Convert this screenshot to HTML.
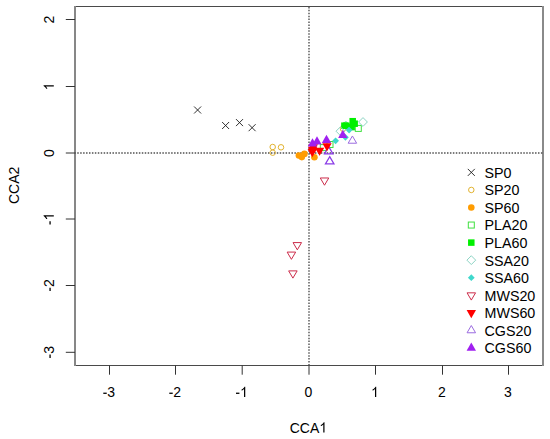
<!DOCTYPE html>
<html><head><meta charset="utf-8"><style>
html,body{margin:0;padding:0;background:#fff;width:550px;height:439px;overflow:hidden;position:relative;font-family:"Liberation Sans", sans-serif;}
</style></head><body>
<svg width="550" height="439" viewBox="0 0 550 439" style="position:absolute;left:0;top:0">
<rect x="74" y="6" width="470" height="1" fill="#4a4a4a"/>
<rect x="74" y="365" width="470" height="1" fill="#4a4a4a"/>
<rect x="74" y="6" width="2" height="360" fill="#878787"/>
<rect x="542" y="6" width="2" height="360" fill="#8a8a8a"/>
<line x1="109.50" y1="365.5" x2="109.50" y2="374.7" stroke="#333" stroke-width="1"/>
<g transform="translate(108.90,397.00) scale(1,1.06)"><path transform="translate(-6.22,0) scale(0.006836,-0.006836)" d="M91 425H591V605H91Z" fill="#000"/><text x="-1.56" y="0" font-family='"Liberation Sans", sans-serif' font-size="14" fill="#000">3</text></g>
<line x1="175.50" y1="365.5" x2="175.50" y2="374.7" stroke="#333" stroke-width="1"/>
<g transform="translate(174.90,397.00) scale(1,1.06)"><path transform="translate(-6.22,0) scale(0.006836,-0.006836)" d="M91 425H591V605H91Z" fill="#000"/><text x="-1.56" y="0" font-family='"Liberation Sans", sans-serif' font-size="14" fill="#000">2</text></g>
<line x1="242.20" y1="365.5" x2="242.20" y2="374.7" stroke="#333" stroke-width="1"/>
<g transform="translate(241.60,397.00) scale(1,1.06)"><path transform="translate(-6.22,0) scale(0.006836,-0.006836)" d="M91 425H591V605H91Z" fill="#000"/><path transform="translate(-1.56,0) scale(0.006836,-0.006836)" d="M763 0H583V1090Q518 1030 412 970T223 880V1050Q375 1120 489 1220T650 1409H763Z" fill="#000"/></g>
<line x1="309.00" y1="365.5" x2="309.00" y2="374.7" stroke="#333" stroke-width="1"/>
<g transform="translate(308.40,397.00) scale(1,1.06)"><text x="-3.89" y="0" font-family='"Liberation Sans", sans-serif' font-size="14" fill="#000">0</text></g>
<line x1="375.50" y1="365.5" x2="375.50" y2="374.7" stroke="#333" stroke-width="1"/>
<g transform="translate(374.90,397.00) scale(1,1.06)"><path transform="translate(-3.89,0) scale(0.006836,-0.006836)" d="M763 0H583V1090Q518 1030 412 970T223 880V1050Q375 1120 489 1220T650 1409H763Z" fill="#000"/></g>
<line x1="442.50" y1="365.5" x2="442.50" y2="374.7" stroke="#333" stroke-width="1"/>
<g transform="translate(441.90,397.00) scale(1,1.06)"><text x="-3.89" y="0" font-family='"Liberation Sans", sans-serif' font-size="14" fill="#000">2</text></g>
<line x1="508.50" y1="365.5" x2="508.50" y2="374.7" stroke="#333" stroke-width="1"/>
<g transform="translate(507.90,397.00) scale(1,1.06)"><text x="-3.89" y="0" font-family='"Liberation Sans", sans-serif' font-size="14" fill="#000">3</text></g>
<line x1="65.8" y1="352.30" x2="75.0" y2="352.30" stroke="#333" stroke-width="1"/>
<g transform="translate(53.80,352.30) rotate(-90) scale(1,1.06)"><path transform="translate(-6.22,0) scale(0.006836,-0.006836)" d="M91 425H591V605H91Z" fill="#000"/><text x="-1.56" y="0" font-family='"Liberation Sans", sans-serif' font-size="14" fill="#000">3</text></g>
<line x1="65.8" y1="285.50" x2="75.0" y2="285.50" stroke="#333" stroke-width="1"/>
<g transform="translate(53.80,285.50) rotate(-90) scale(1,1.06)"><path transform="translate(-6.22,0) scale(0.006836,-0.006836)" d="M91 425H591V605H91Z" fill="#000"/><text x="-1.56" y="0" font-family='"Liberation Sans", sans-serif' font-size="14" fill="#000">2</text></g>
<line x1="65.8" y1="219.00" x2="75.0" y2="219.00" stroke="#333" stroke-width="1"/>
<g transform="translate(53.80,219.00) rotate(-90) scale(1,1.06)"><path transform="translate(-6.22,0) scale(0.006836,-0.006836)" d="M91 425H591V605H91Z" fill="#000"/><path transform="translate(-1.56,0) scale(0.006836,-0.006836)" d="M763 0H583V1090Q518 1030 412 970T223 880V1050Q375 1120 489 1220T650 1409H763Z" fill="#000"/></g>
<line x1="65.8" y1="153.00" x2="75.0" y2="153.00" stroke="#333" stroke-width="1"/>
<g transform="translate(53.80,153.00) rotate(-90) scale(1,1.06)"><text x="-3.89" y="0" font-family='"Liberation Sans", sans-serif' font-size="14" fill="#000">0</text></g>
<line x1="65.8" y1="86.50" x2="75.0" y2="86.50" stroke="#333" stroke-width="1"/>
<g transform="translate(53.80,86.50) rotate(-90) scale(1,1.06)"><path transform="translate(-3.89,0) scale(0.006836,-0.006836)" d="M763 0H583V1090Q518 1030 412 970T223 880V1050Q375 1120 489 1220T650 1409H763Z" fill="#000"/></g>
<line x1="65.8" y1="19.50" x2="75.0" y2="19.50" stroke="#333" stroke-width="1"/>
<g transform="translate(53.80,19.50) rotate(-90) scale(1,1.06)"><text x="-3.89" y="0" font-family='"Liberation Sans", sans-serif' font-size="14" fill="#000">2</text></g>
<g transform="translate(308.40,432.50) scale(1,1.06)"><text x="-18.67" y="0" font-family='"Liberation Sans", sans-serif' font-size="14" fill="#000">CCA</text><path transform="translate(10.89,0) scale(0.006836,-0.006836)" d="M763 0H583V1090Q518 1030 412 970T223 880V1050Q375 1120 489 1220T650 1409H763Z" fill="#000"/></g>
<g transform="translate(18.90,185.40) rotate(-90) scale(1,1.06)"><text x="-18.67" y="0" font-family='"Liberation Sans", sans-serif' font-size="14" fill="#000">CCA2</text></g>
<line x1="75.0" y1="153.0" x2="543.0" y2="153.0" stroke="#505050" stroke-width="1.4" stroke-dasharray="1.5 1.4345" stroke-dashoffset="0.6845"/>
<line x1="309.0" y1="6.5" x2="309.0" y2="365.5" stroke="#505050" stroke-width="1.4" stroke-dasharray="1.5 1.4268" stroke-dashoffset="2.5238"/>
<path d="M194.10 106.50L201.10 113.50M194.10 113.50L201.10 106.50" stroke="#1a1a1a" stroke-width="0.9" fill="none"/>
<path d="M222.10 122.00L229.10 129.00M222.10 129.00L229.10 122.00" stroke="#1a1a1a" stroke-width="0.9" fill="none"/>
<path d="M236.00 119.10L243.00 126.10M236.00 126.10L243.00 119.10" stroke="#1a1a1a" stroke-width="0.9" fill="none"/>
<path d="M248.60 124.20L255.60 131.20M248.60 131.20L255.60 124.20" stroke="#1a1a1a" stroke-width="0.9" fill="none"/>
<circle cx="272.70" cy="147.00" r="2.75" stroke="#E2B330" stroke-width="1" fill="none"/>
<circle cx="281.00" cy="147.30" r="2.75" stroke="#E2B330" stroke-width="1" fill="none"/>
<circle cx="272.70" cy="152.70" r="2.75" stroke="#E2B330" stroke-width="1" fill="none"/>
<circle cx="343.00" cy="128.80" r="2.75" stroke="#E2B330" stroke-width="1" fill="none"/>
<circle cx="298.90" cy="155.50" r="3.3" fill="#FF9C00"/>
<circle cx="304.40" cy="153.90" r="3.3" fill="#FF9C00"/>
<circle cx="301.80" cy="157.10" r="3.3" fill="#FF9C00"/>
<circle cx="314.40" cy="157.20" r="3.3" fill="#FF9C00"/>
<rect x="355.30" y="125.40" width="6.00" height="6.00" stroke="#3FE03F" stroke-width="1" fill="none"/>
<rect x="327.00" y="141.50" width="6.00" height="6.00" stroke="#3FE03F" stroke-width="1" fill="none"/>
<rect x="320.30" y="144.60" width="6.00" height="6.00" stroke="#3FE03F" stroke-width="1" fill="none"/>
<path d="M341.40 125.50L345.80 121.10L350.20 125.50L345.80 129.90Z" stroke="#8CD4C4" stroke-width="1" fill="none"/>
<rect x="349.45" y="117.95" width="6.50" height="6.50" fill="#00F000"/>
<rect x="351.40" y="120.45" width="6.50" height="6.50" fill="#00F000"/>
<rect x="348.40" y="123.85" width="6.50" height="6.50" fill="#00F000"/>
<rect x="341.15" y="122.45" width="6.50" height="6.50" fill="#00F000"/>
<rect x="343.05" y="122.45" width="6.50" height="6.50" fill="#00F000"/>
<path d="M345.70 130.10L349.10 126.70L352.50 130.10L349.10 133.50Z" fill="#3FD8CC"/>
<path d="M358.60 122.00L363.00 117.60L367.40 122.00L363.00 126.40Z" stroke="#8CD4C4" stroke-width="1" fill="none"/>
<path d="M336.00 131.20L340.40 126.80L344.80 131.20L340.40 135.60Z" stroke="#8CD4C4" stroke-width="1" fill="none"/>
<path d="M332.20 140.80L335.60 137.40L339.00 140.80L335.60 144.20Z" fill="#3FD8CC"/>
<path d="M342.00 137.30L345.40 133.90L348.80 137.30L345.40 140.70Z" fill="#3FD8CC"/>
<path d="M297.30 249.83L301.55 242.58L293.05 242.58Z" stroke="#CC2C4A" stroke-width="1" fill="none" stroke-linejoin="miter"/>
<path d="M291.40 259.33L295.65 252.08L287.15 252.08Z" stroke="#CC2C4A" stroke-width="1" fill="none" stroke-linejoin="miter"/>
<path d="M292.90 278.13L297.15 270.88L288.65 270.88Z" stroke="#CC2C4A" stroke-width="1" fill="none" stroke-linejoin="miter"/>
<path d="M324.50 185.23L328.75 177.98L320.25 177.98Z" stroke="#CC2C4A" stroke-width="1" fill="none" stroke-linejoin="miter"/>
<path d="M352.40 135.97L356.65 143.22L348.15 143.22Z" stroke="#9B6BE0" stroke-width="1" fill="none" stroke-linejoin="miter"/>
<path d="M328.70 146.57L332.95 153.82L324.45 153.82Z" stroke="#8A3CE6" stroke-width="1.25" fill="none" stroke-linejoin="miter"/>
<path d="M329.70 156.67L333.95 163.92L325.45 163.92Z" stroke="#8A3CE6" stroke-width="1.25" fill="none" stroke-linejoin="miter"/>
<path d="M313.30 152.47L318.00 144.27L308.60 144.27Z" fill="#FF0000"/>
<path d="M312.60 155.07L317.30 146.87L307.90 146.87Z" fill="#FF0000"/>
<path d="M312.30 157.17L317.00 148.97L307.60 148.97Z" fill="#FF0000"/>
<path d="M319.60 155.87L324.30 147.67L314.90 147.67Z" fill="#FF0000"/>
<path d="M327.00 151.37L331.70 143.17L322.30 143.17Z" fill="#FF0000"/>
<path d="M312.50 138.23L317.20 146.43L307.80 146.43Z" fill="#A020F0"/>
<path d="M317.00 136.23L321.70 144.43L312.30 144.43Z" fill="#A020F0"/>
<path d="M326.50 134.83L331.20 143.03L321.80 143.03Z" fill="#A020F0"/>
<path d="M342.80 129.83L347.50 138.03L338.10 138.03Z" fill="#A020F0"/>
<path d="M467.80 168.90L474.80 175.90M467.80 175.90L474.80 168.90" stroke="#1a1a1a" stroke-width="0.9" fill="none"/>
<g transform="translate(484.50,177.80) scale(1,1.04)"><text x="0.00" y="0" font-family='"Liberation Sans", sans-serif' font-size="14.3" fill="#000">SP0</text></g>
<circle cx="471.30" cy="189.95" r="2.75" stroke="#E2B330" stroke-width="1" fill="none"/>
<g transform="translate(484.50,195.35) scale(1,1.04)"><text x="0.00" y="0" font-family='"Liberation Sans", sans-serif' font-size="14.3" fill="#000">SP20</text></g>
<circle cx="471.30" cy="207.50" r="3.3" fill="#FF9C00"/>
<g transform="translate(484.50,212.90) scale(1,1.04)"><text x="0.00" y="0" font-family='"Liberation Sans", sans-serif' font-size="14.3" fill="#000">SP60</text></g>
<rect x="468.30" y="222.05" width="6.00" height="6.00" stroke="#3FE03F" stroke-width="1" fill="none"/>
<g transform="translate(484.50,230.45) scale(1,1.04)"><text x="0.00" y="0" font-family='"Liberation Sans", sans-serif' font-size="14.3" fill="#000">PLA20</text></g>
<rect x="468.05" y="239.35" width="6.50" height="6.50" fill="#00F000"/>
<g transform="translate(484.50,248.00) scale(1,1.04)"><text x="0.00" y="0" font-family='"Liberation Sans", sans-serif' font-size="14.3" fill="#000">PLA60</text></g>
<path d="M466.90 260.15L471.30 255.75L475.70 260.15L471.30 264.55Z" stroke="#8CD4C4" stroke-width="1" fill="none"/>
<g transform="translate(484.50,265.55) scale(1,1.04)"><text x="0.00" y="0" font-family='"Liberation Sans", sans-serif' font-size="14.3" fill="#000">SSA20</text></g>
<path d="M467.90 277.70L471.30 274.30L474.70 277.70L471.30 281.10Z" fill="#3FD8CC"/>
<g transform="translate(484.50,283.10) scale(1,1.04)"><text x="0.00" y="0" font-family='"Liberation Sans", sans-serif' font-size="14.3" fill="#000">SSA60</text></g>
<path d="M471.30 300.08L475.55 292.83L467.05 292.83Z" stroke="#CC2C4A" stroke-width="1" fill="none" stroke-linejoin="miter"/>
<g transform="translate(484.50,300.65) scale(1,1.04)"><text x="0.00" y="0" font-family='"Liberation Sans", sans-serif' font-size="14.3" fill="#000">MWS20</text></g>
<path d="M471.30 318.27L476.00 310.07L466.60 310.07Z" fill="#FF0000"/>
<g transform="translate(484.50,318.20) scale(1,1.04)"><text x="0.00" y="0" font-family='"Liberation Sans", sans-serif' font-size="14.3" fill="#000">MWS60</text></g>
<path d="M471.30 325.52L475.55 332.77L467.05 332.77Z" stroke="#9B6BE0" stroke-width="1" fill="none" stroke-linejoin="miter"/>
<g transform="translate(484.50,335.75) scale(1,1.04)"><text x="0.00" y="0" font-family='"Liberation Sans", sans-serif' font-size="14.3" fill="#000">CGS20</text></g>
<path d="M471.30 342.43L476.00 350.63L466.60 350.63Z" fill="#A020F0"/>
<g transform="translate(484.50,353.30) scale(1,1.04)"><text x="0.00" y="0" font-family='"Liberation Sans", sans-serif' font-size="14.3" fill="#000">CGS60</text></g>
</svg>
</body></html>
